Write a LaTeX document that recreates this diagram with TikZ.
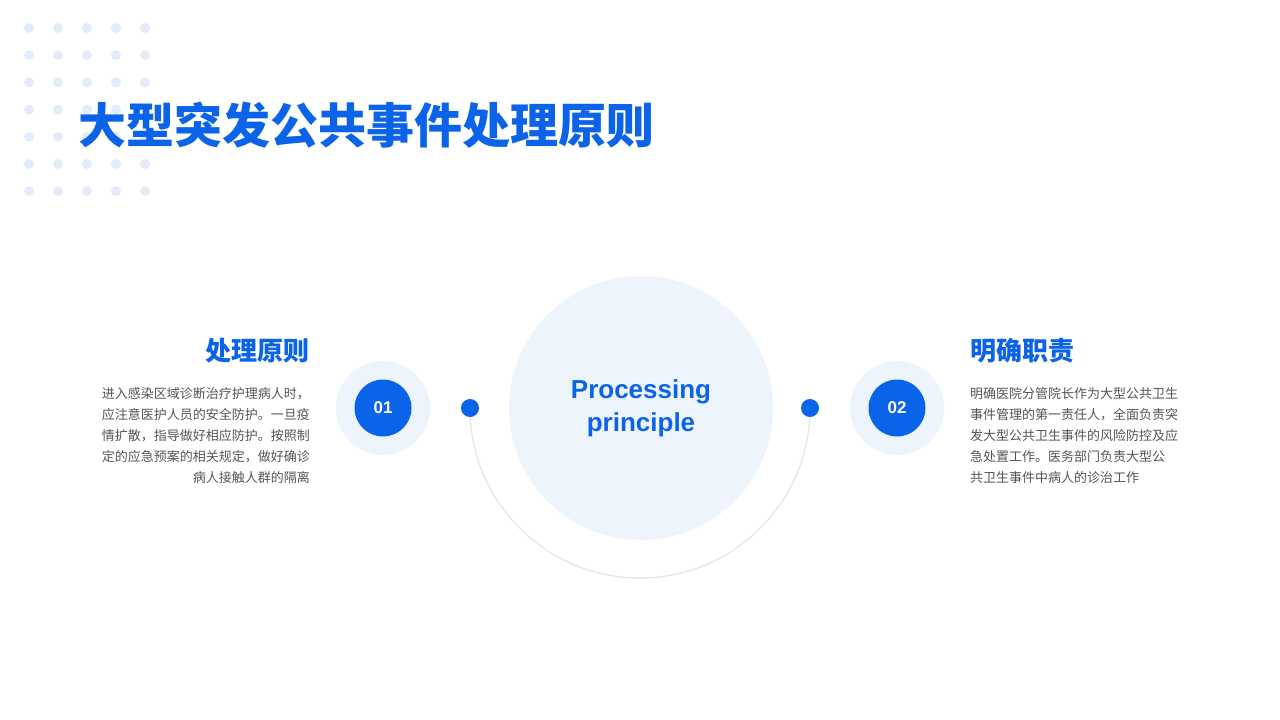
\documentclass[tikz,border=0pt]{standalone}
\usepackage{fontspec}
\setmainfont{Noto Sans CJK SC}
\newfontfamily\latin{Liberation Sans}
\usetikzlibrary{positioning}
\definecolor{mainblue}{HTML}{0A63E8}
\definecolor{paleblue}{HTML}{EEF4FC}
\definecolor{dotblue}{HTML}{E4ECF9}
\definecolor{bodygray}{HTML}{555555}
\tikzset{
  badge/.style={circle,fill=paleblue,minimum size=94pt,inner sep=0pt},
  badgecore/.style={circle,fill=mainblue,minimum size=57pt,inner sep=0pt,text=white,font=\latin\fontsize{17}{17}\selectfont\bfseries},
  heading/.style={text=mainblue,font=\fontsize{26}{26}\selectfont\bfseries,inner sep=0pt},
  bodytext/.style={text=bodygray,font=\fontsize{13}{21}\selectfont,inner sep=0pt},
  enddot/.style={circle,fill=mainblue,minimum size=18pt,inner sep=0pt}
}
\begin{document}
\begin{tikzpicture}[x=1pt,y=-1pt]
\useasboundingbox[fill=white] (0,0) rectangle (1280,720);
% dot grid
\foreach \i in {0,...,4}{
\foreach \j in {0,...,6}
\fill[dotblue] ({29+29*\i},{28+27.2*\j}) circle (5);}
\node[anchor=west,text=mainblue,font=\fontsize{48}{48}\selectfont\bfseries,inner sep=0pt] (title) at (78,125) {大型突发公共事件处理原则};
% arc
\draw[black!10,line width=1.2pt] (470,408) arc[start angle=180,end angle=0,radius=170];
\node[enddot] (dotl) at (470,408) {};
\node[enddot] (dotr) at (810,408) {};
\node[circle,fill=paleblue,minimum size=264pt,inner sep=0pt,align=center,text=mainblue,
  font=\latin\fontsize{26}{33}\selectfont\bfseries] (center) at (641,408) {Processing\\principle};
% left item
\node[badge] (bl) at (383,408) {};
\node[badgecore] (nl) at (383,408) {01};
\node[heading,anchor=east] (hl) at (310,351) {处理原则};
\node[bodytext,anchor=north east,align=right] (tl) at (310,387) {进入感染区域诊断治疗护理病人时，\\应注意医护人员的安全防护。一旦疫\\情扩散，指导做好相应防护。按照制\\定的应急预案的相关规定，做好确诊\\病人接触人群的隔离};
% right item
\node[badge] (br) at (897,408) {};
\node[badgecore] (nr) at (897,408) {02};
\node[heading,anchor=west] (hr) at (970,351) {明确职责};
\node[bodytext,anchor=north west,align=left] (tr) at (970,387) {明确医院分管院长作为大型公共卫生\\事件管理的第一责任人，全面负责突\\发大型公共卫生事件的风险防控及应\\急处置工作。医务部门负责大型公\\共卫生事件中病人的诊治工作};
\end{tikzpicture}
\end{document}
